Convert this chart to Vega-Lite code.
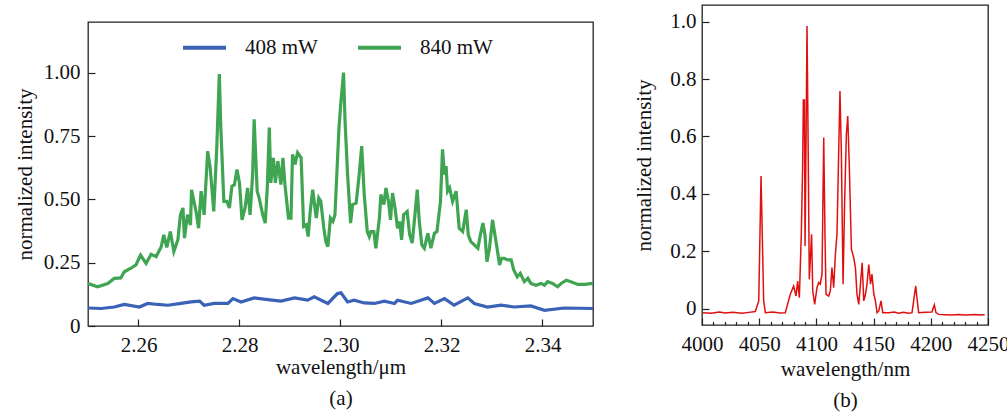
{
  "$schema": "https://vega.github.io/schema/vega-lite/v6.json",
  "padding": {"left": 13, "top": 4, "right": 0, "bottom": 0},
  "background": "white",
  "config": {
    "font": "Liberation Serif",
    "view": {"stroke": "#222", "strokeWidth": 1.3},
    "axis": {"domain": false, "grid": false, "tickColor": "#222", "tickWidth": 1.2, "labelFont": "Liberation Serif", "labelFontSize": 21, "labelColor": "#111", "titleFont": "Liberation Serif", "titleFontSize": 21, "titleFontWeight": "normal", "titleColor": "#111", "labelFlush": false, "labelOverlap": false, "labelBound": false}
  },
  "spacing": 39,
  "hconcat": [
    {
      "spacing": 15,
      "vconcat": [
        {
          "width": 10,
          "height": 1,
          "view": {"stroke": null},
          "data": {"values": []},
          "mark": "point"
        },
        {
          "width": 505,
          "height": 304,
          "data": {"values": [
            {"s":"408 mW","w":2.25,"v":0.071},{"s":"408 mW","w":2.2526,"v":0.069},{"s":"408 mW","w":2.2552,"v":0.075},{"s":"408 mW","w":2.2572,"v":0.085},{"s":"408 mW","w":2.2602,"v":0.075},{"s":"408 mW","w":2.2618,"v":0.089},{"s":"408 mW","w":2.2638,"v":0.085},{"s":"408 mW","w":2.2658,"v":0.082},{"s":"408 mW","w":2.2684,"v":0.089},{"s":"408 mW","w":2.2704,"v":0.095},{"s":"408 mW","w":2.2721,"v":0.098},{"s":"408 mW","w":2.273,"v":0.082},{"s":"408 mW","w":2.275,"v":0.089},{"s":"408 mW","w":2.2777,"v":0.089},{"s":"408 mW","w":2.2787,"v":0.108},{"s":"408 mW","w":2.2803,"v":0.095},{"s":"408 mW","w":2.2829,"v":0.111},{"s":"408 mW","w":2.2856,"v":0.104},{"s":"408 mW","w":2.2882,"v":0.098},{"s":"408 mW","w":2.2909,"v":0.111},{"s":"408 mW","w":2.2935,"v":0.102},{"s":"408 mW","w":2.2948,"v":0.115},{"s":"408 mW","w":2.2975,"v":0.089},{"s":"408 mW","w":2.2994,"v":0.128},{"s":"408 mW","w":2.3001,"v":0.131},{"s":"408 mW","w":2.3014,"v":0.095},{"s":"408 mW","w":2.3027,"v":0.102},{"s":"408 mW","w":2.3047,"v":0.091},{"s":"408 mW","w":2.3067,"v":0.089},{"s":"408 mW","w":2.3087,"v":0.098},{"s":"408 mW","w":2.3107,"v":0.089},{"s":"408 mW","w":2.3113,"v":0.102},{"s":"408 mW","w":2.314,"v":0.089},{"s":"408 mW","w":2.3159,"v":0.102},{"s":"408 mW","w":2.3173,"v":0.111},{"s":"408 mW","w":2.3186,"v":0.089},{"s":"408 mW","w":2.3206,"v":0.108},{"s":"408 mW","w":2.3225,"v":0.082},{"s":"408 mW","w":2.3252,"v":0.111},{"s":"408 mW","w":2.3265,"v":0.089},{"s":"408 mW","w":2.3291,"v":0.075},{"s":"408 mW","w":2.3318,"v":0.082},{"s":"408 mW","w":2.3344,"v":0.075},{"s":"408 mW","w":2.3377,"v":0.079},{"s":"408 mW","w":2.3404,"v":0.062},{"s":"408 mW","w":2.3443,"v":0.071},{"s":"408 mW","w":2.35,"v":0.069},
            {"s":"840 mW","w":2.25,"v":0.168},{"s":"840 mW","w":2.2519,"v":0.155},{"s":"840 mW","w":2.2539,"v":0.168},{"s":"840 mW","w":2.2552,"v":0.188},{"s":"840 mW","w":2.2565,"v":0.19},{"s":"840 mW","w":2.2572,"v":0.214},{"s":"840 mW","w":2.2585,"v":0.228},{"s":"840 mW","w":2.2595,"v":0.241},{"s":"840 mW","w":2.2604,"v":0.28},{"s":"840 mW","w":2.2615,"v":0.247},{"s":"840 mW","w":2.2625,"v":0.283},{"s":"840 mW","w":2.2635,"v":0.274},{"s":"840 mW","w":2.2645,"v":0.313},{"s":"840 mW","w":2.265,"v":0.36},{"s":"840 mW","w":2.2656,"v":0.31},{"s":"840 mW","w":2.2663,"v":0.373},{"s":"840 mW","w":2.267,"v":0.294},{"s":"840 mW","w":2.2678,"v":0.34},{"s":"840 mW","w":2.2683,"v":0.439},{"s":"840 mW","w":2.2688,"v":0.466},{"s":"840 mW","w":2.2691,"v":0.347},{"s":"840 mW","w":2.2697,"v":0.439},{"s":"840 mW","w":2.2703,"v":0.399},{"s":"840 mW","w":2.2705,"v":0.538},{"s":"840 mW","w":2.2714,"v":0.452},{"s":"840 mW","w":2.2719,"v":0.386},{"s":"840 mW","w":2.2724,"v":0.532},{"s":"840 mW","w":2.273,"v":0.439},{"s":"840 mW","w":2.2737,"v":0.69},{"s":"840 mW","w":2.2742,"v":0.624},{"s":"840 mW","w":2.2749,"v":0.452},{"s":"840 mW","w":2.2755,"v":0.704},{"s":"840 mW","w":2.276,"v":0.995},{"s":"840 mW","w":2.2763,"v":0.783},{"s":"840 mW","w":2.2769,"v":0.492},{"s":"840 mW","w":2.2775,"v":0.492},{"s":"840 mW","w":2.278,"v":0.466},{"s":"840 mW","w":2.2785,"v":0.552},{"s":"840 mW","w":2.279,"v":0.558},{"s":"840 mW","w":2.2795,"v":0.618},{"s":"840 mW","w":2.28,"v":0.565},{"s":"840 mW","w":2.2805,"v":0.419},{"s":"840 mW","w":2.2811,"v":0.466},{"s":"840 mW","w":2.2816,"v":0.545},{"s":"840 mW","w":2.2821,"v":0.439},{"s":"840 mW","w":2.2826,"v":0.598},{"s":"840 mW","w":2.2829,"v":0.816},{"s":"840 mW","w":2.2835,"v":0.532},{"s":"840 mW","w":2.2839,"v":0.505},{"s":"840 mW","w":2.2846,"v":0.439},{"s":"840 mW","w":2.2851,"v":0.406},{"s":"840 mW","w":2.2855,"v":0.545},{"s":"840 mW","w":2.2859,"v":0.783},{"s":"840 mW","w":2.2862,"v":0.565},{"s":"840 mW","w":2.2867,"v":0.664},{"s":"840 mW","w":2.2871,"v":0.565},{"s":"840 mW","w":2.2876,"v":0.651},{"s":"840 mW","w":2.2882,"v":0.558},{"s":"840 mW","w":2.2886,"v":0.664},{"s":"840 mW","w":2.289,"v":0.558},{"s":"840 mW","w":2.2897,"v":0.426},{"s":"840 mW","w":2.2902,"v":0.426},{"s":"840 mW","w":2.2905,"v":0.677},{"s":"840 mW","w":2.291,"v":0.638},{"s":"840 mW","w":2.2915,"v":0.684},{"s":"840 mW","w":2.2922,"v":0.664},{"s":"840 mW","w":2.2927,"v":0.393},{"s":"840 mW","w":2.2932,"v":0.399},{"s":"840 mW","w":2.2936,"v":0.353},{"s":"840 mW","w":2.294,"v":0.452},{"s":"840 mW","w":2.2945,"v":0.538},{"s":"840 mW","w":2.2952,"v":0.426},{"s":"840 mW","w":2.2957,"v":0.505},{"s":"840 mW","w":2.2961,"v":0.492},{"s":"840 mW","w":2.2967,"v":0.386},{"s":"840 mW","w":2.2971,"v":0.333},{"s":"840 mW","w":2.2975,"v":0.313},{"s":"840 mW","w":2.298,"v":0.426},{"s":"840 mW","w":2.2985,"v":0.413},{"s":"840 mW","w":2.2989,"v":0.439},{"s":"840 mW","w":2.2997,"v":0.783},{"s":"840 mW","w":2.3001,"v":0.889},{"s":"840 mW","w":2.3006,"v":1.0},{"s":"840 mW","w":2.3009,"v":0.81},{"s":"840 mW","w":2.3014,"v":0.598},{"s":"840 mW","w":2.302,"v":0.406},{"s":"840 mW","w":2.3024,"v":0.479},{"s":"840 mW","w":2.3031,"v":0.485},{"s":"840 mW","w":2.3037,"v":0.598},{"s":"840 mW","w":2.3042,"v":0.71},{"s":"840 mW","w":2.3047,"v":0.519},{"s":"840 mW","w":2.3053,"v":0.373},{"s":"840 mW","w":2.3057,"v":0.353},{"s":"840 mW","w":2.306,"v":0.373},{"s":"840 mW","w":2.3066,"v":0.373},{"s":"840 mW","w":2.307,"v":0.307},{"s":"840 mW","w":2.3077,"v":0.426},{"s":"840 mW","w":2.308,"v":0.519},{"s":"840 mW","w":2.3086,"v":0.479},{"s":"840 mW","w":2.309,"v":0.545},{"s":"840 mW","w":2.3095,"v":0.492},{"s":"840 mW","w":2.3099,"v":0.419},{"s":"840 mW","w":2.3103,"v":0.525},{"s":"840 mW","w":2.3108,"v":0.466},{"s":"840 mW","w":2.3113,"v":0.386},{"s":"840 mW","w":2.3117,"v":0.413},{"s":"840 mW","w":2.3121,"v":0.34},{"s":"840 mW","w":2.3125,"v":0.439},{"s":"840 mW","w":2.3132,"v":0.452},{"s":"840 mW","w":2.3137,"v":0.36},{"s":"840 mW","w":2.3142,"v":0.327},{"s":"840 mW","w":2.3148,"v":0.452},{"s":"840 mW","w":2.3152,"v":0.538},{"s":"840 mW","w":2.3156,"v":0.413},{"s":"840 mW","w":2.3161,"v":0.32},{"s":"840 mW","w":2.3166,"v":0.307},{"s":"840 mW","w":2.3173,"v":0.366},{"s":"840 mW","w":2.3179,"v":0.307},{"s":"840 mW","w":2.3186,"v":0.366},{"s":"840 mW","w":2.3191,"v":0.373},{"s":"840 mW","w":2.3198,"v":0.492},{"s":"840 mW","w":2.3202,"v":0.697},{"s":"840 mW","w":2.3206,"v":0.598},{"s":"840 mW","w":2.3209,"v":0.631},{"s":"840 mW","w":2.3212,"v":0.532},{"s":"840 mW","w":2.3216,"v":0.545},{"s":"840 mW","w":2.3222,"v":0.492},{"s":"840 mW","w":2.3229,"v":0.532},{"s":"840 mW","w":2.3235,"v":0.386},{"s":"840 mW","w":2.3242,"v":0.373},{"s":"840 mW","w":2.3249,"v":0.459},{"s":"840 mW","w":2.3253,"v":0.36},{"s":"840 mW","w":2.3258,"v":0.333},{"s":"840 mW","w":2.3265,"v":0.32},{"s":"840 mW","w":2.3272,"v":0.307},{"s":"840 mW","w":2.3277,"v":0.36},{"s":"840 mW","w":2.3282,"v":0.406},{"s":"840 mW","w":2.3286,"v":0.36},{"s":"840 mW","w":2.329,"v":0.254},{"s":"840 mW","w":2.3295,"v":0.307},{"s":"840 mW","w":2.3301,"v":0.419},{"s":"840 mW","w":2.3308,"v":0.333},{"s":"840 mW","w":2.3315,"v":0.241},{"s":"840 mW","w":2.3319,"v":0.267},{"s":"840 mW","w":2.3324,"v":0.267},{"s":"840 mW","w":2.3331,"v":0.261},{"s":"840 mW","w":2.3338,"v":0.261},{"s":"840 mW","w":2.3343,"v":0.221},{"s":"840 mW","w":2.335,"v":0.194},{"s":"840 mW","w":2.3356,"v":0.208},{"s":"840 mW","w":2.3364,"v":0.175},{"s":"840 mW","w":2.3371,"v":0.188},{"s":"840 mW","w":2.3377,"v":0.168},{"s":"840 mW","w":2.3387,"v":0.161},{"s":"840 mW","w":2.3397,"v":0.168},{"s":"840 mW","w":2.3404,"v":0.161},{"s":"840 mW","w":2.341,"v":0.175},{"s":"840 mW","w":2.342,"v":0.168},{"s":"840 mW","w":2.343,"v":0.155},{"s":"840 mW","w":2.3437,"v":0.168},{"s":"840 mW","w":2.3447,"v":0.181},{"s":"840 mW","w":2.3456,"v":0.175},{"s":"840 mW","w":2.347,"v":0.164},{"s":"840 mW","w":2.3483,"v":0.164},{"s":"840 mW","w":2.35,"v":0.168}
          ]},
          "mark": {"type": "line", "strokeWidth": 3.2, "clip": true},
          "encoding": {
            "x": {"field": "w", "type": "quantitative",
              "scale": {"domain": [2.25, 2.35], "nice": false, "zero": false},
              "axis": {"values": [2.26, 2.28, 2.3, 2.32, 2.34], "format": ".2f", "tickSize": -7, "labelPadding": 15, "title": ["wavelength/μm", "(a)"], "titlePadding": 1, "titleLineHeight": 31}},
            "y": {"field": "v", "type": "quantitative",
              "scale": {"domain": [0, 1.2], "nice": false},
              "axis": {"values": [0, 0.25, 0.5, 0.75, 1], "labelExpr": "datum.value == 0 ? '0' : format(datum.value, '.2f')", "tickSize": -7, "labelPadding": 15, "title": "normalized intensity", "titlePadding": 8}},
            "color": {"field": "s", "type": "nominal",
              "scale": {"domain": ["408 mW", "840 mW"], "range": ["#3a62b6", "#40a552"]},
              "legend": {"orient": "none", "legendX": 93, "legendY": 19, "direction": "horizontal", "title": null, "symbolType": "stroke", "symbolSize": 1849, "symbolStrokeWidth": 4, "labelFontSize": 21, "labelFont": "Liberation Serif", "labelColor": "#111", "labelOffset": 17, "columnPadding": 32, "padding": 0}}
          }
        }
      ]
    },
    {
      "width": 286,
      "height": 320,
      "data": {"values": [
        {"n":4000.5,"v":-0.014},{"n":4008,"v":-0.016},{"n":4015,"v":-0.012},{"n":4020.4,"v":-0.015},{"n":4027,"v":-0.013},{"n":4035,"v":-0.016},{"n":4041,"v":-0.013},{"n":4046.6,"v":-0.01},{"n":4049.6,"v":0.027},{"n":4051.6,"v":0.462},{"n":4053.9,"v":0.027},{"n":4055.4,"v":-0.014},{"n":4062,"v":-0.012},{"n":4068,"v":-0.015},{"n":4072.8,"v":-0.014},{"n":4077.2,"v":0.05},{"n":4080.1,"v":0.079},{"n":4082.2,"v":0.044},{"n":4083.6,"v":0.096},{"n":4085.1,"v":0.038},{"n":4086.8,"v":0.259},{"n":4088,"v":0.503},{"n":4088.6,"v":0.727},{"n":4089.5,"v":0.727},{"n":4090.1,"v":0.218},{"n":4091,"v":0.607},{"n":4091.8,"v":0.985},{"n":4092.7,"v":0.607},{"n":4093.8,"v":0.102},{"n":4095.8,"v":0.259},{"n":4096.8,"v":0.062},{"n":4098.5,"v":0.015},{"n":4100.5,"v":0.073},{"n":4102,"v":0.091},{"n":4103.4,"v":0.085},{"n":4104.9,"v":0.12},{"n":4106.4,"v":0.596},{"n":4107.5,"v":0.259},{"n":4108.4,"v":0.05},{"n":4110.7,"v":0.044},{"n":4112.2,"v":0.062},{"n":4113.6,"v":0.143},{"n":4115.1,"v":0.073},{"n":4116.6,"v":0.189},{"n":4118,"v":0.259},{"n":4119.5,"v":0.549},{"n":4120.6,"v":0.758},{"n":4121.8,"v":0.549},{"n":4123.3,"v":0.085},{"n":4124.7,"v":0.375},{"n":4126.2,"v":0.607},{"n":4127.4,"v":0.671},{"n":4128.8,"v":0.491},{"n":4130.6,"v":0.207},{"n":4132.6,"v":0.178},{"n":4134.1,"v":0.143},{"n":4135.5,"v":0.05},{"n":4137,"v":0.015},{"n":4138.5,"v":0.085},{"n":4140,"v":0.16},{"n":4141.4,"v":0.027},{"n":4142.9,"v":0.05},{"n":4144.2,"v":0.085},{"n":4145.8,"v":0.154},{"n":4147.3,"v":0.085},{"n":4148.6,"v":0.12},{"n":4150.2,"v":0.05},{"n":4151.6,"v":0.027},{"n":4153,"v":-0.014},{"n":4154.5,"v":-0.008},{"n":4156.5,"v":0.027},{"n":4158,"v":-0.014},{"n":4163.2,"v":-0.014},{"n":4168,"v":-0.012},{"n":4171.9,"v":-0.016},{"n":4176,"v":-0.013},{"n":4180.7,"v":-0.016},{"n":4183.6,"v":-0.014},{"n":4185,"v":0.027},{"n":4186.8,"v":0.079},{"n":4188.2,"v":0.027},{"n":4189.4,"v":-0.014},{"n":4195,"v":-0.013},{"n":4201,"v":-0.012},{"n":4203.1,"v":0.013},{"n":4204.5,"v":-0.014},{"n":4206.9,"v":-0.02},{"n":4212,"v":-0.021},{"n":4218.5,"v":-0.022},{"n":4224,"v":-0.02},{"n":4230.2,"v":-0.022},{"n":4235,"v":-0.021},{"n":4238.9,"v":-0.02},{"n":4243,"v":-0.022},{"n":4247.1,"v":-0.021}
      ]},
      "mark": {"type": "line", "strokeWidth": 1.5, "color": "#e01010", "clip": true},
      "encoding": {
        "x": {"field": "n", "type": "quantitative",
          "scale": {"domain": [4000, 4250], "nice": false, "zero": false},
          "axis": {"values": [4000,4010,4020,4030,4040,4050,4060,4070,4080,4090,4100,4110,4120,4130,4140,4150,4160,4170,4180,4190,4200,4210,4220,4230,4240,4250],
            "labelExpr": "datum.value % 50 == 0 ? format(datum.value, 'd') : ''",
            "tickSize": {"condition": {"test": "datum.value % 50 == 0", "value": -7}, "value": -3.5},
            "labelPadding": 15, "title": ["wavelength/nm", "(b)"], "titlePadding": 1, "titleLineHeight": 31}},
        "y": {"field": "v", "type": "quantitative",
          "scale": {"domain": [-0.057, 1.058], "nice": false, "zero": false},
          "axis": {"values": [0, 0.2, 0.4, 0.6, 0.8, 1.0], "labelExpr": "datum.value == 0 ? '0' : format(datum.value, '.1f')", "tickSize": -7, "labelPadding": 13, "title": "normalized intensity", "titlePadding": 15}}
      }
    }
  ]
}
